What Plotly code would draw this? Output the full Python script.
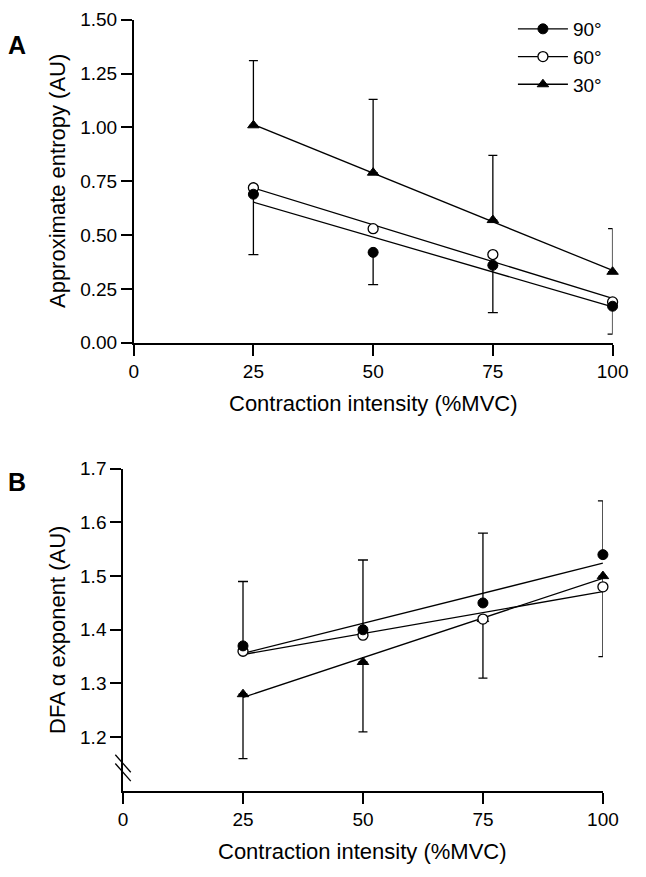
import numpy as np
import plotly.graph_objects as go

# ---------------- data ----------------
intensity = [25, 50, 75, 100]
x_ticks = [0, 25, 50, 75, 100]
angles = ["90°", "60°", "30°"]

apen_90 = [0.69, 0.42, 0.36, 0.17]
apen_90_sd_down = [0.28, 0.15, 0.22, 0.13]
apen_60 = [0.72, 0.53, 0.41, 0.19]
apen_30 = [1.01, 0.79, 0.57, 0.33]
apen_30_sd_up = [0.30, 0.34, 0.30, 0.20]
apen_ticks = [0, 0.25, 0.5, 0.75, 1.0, 1.25, 1.5]

dfa_90 = [1.37, 1.40, 1.45, 1.54]
dfa_90_sd_up = [0.12, 0.13, 0.13, 0.10]
dfa_60 = [1.36, 1.39, 1.42, 1.48]
dfa_30 = [1.28, 1.34, 1.42, 1.50]
dfa_30_sd_down = [0.12, 0.13, 0.11, 0.15]
dfa_ticks = [1.2, 1.3, 1.4, 1.5, 1.6, 1.7]

# ---------------- layout helpers ----------------
W, H = 646, 877
FONT = "Liberation Sans, Arial, Helvetica, sans-serif"


def fx(px):
    return px / W


def fy(py):
    return 1 - py / H


LW = 1.3
marker_styles = {
    "90°": dict(symbol="circle", size=10, color="black", line=dict(color="black", width=1)),
    "60°": dict(symbol="circle", size=10, color="white", line=dict(color="black", width=1.3)),
    "30°": dict(symbol="triangle-up", size=10, color="black", line=dict(color="black", width=1)),
}

fig = go.Figure()


def add_panel(xa, ya, series, errs):
    # regression lines
    for name in ["30°", "60°", "90°"]:
        yv = series[name]
        k, b = np.polyfit(intensity, yv, 1)
        xl = np.array([min(intensity), max(intensity)], dtype=float)
        fig.add_trace(go.Scatter(x=xl, y=k * xl + b, mode="lines",
                                 line=dict(color="black", width=LW), cliponaxis=False,
                                 xaxis=xa, yaxis=ya, showlegend=False, hoverinfo="skip"))
    # markers with error bars
    for name in ["30°", "60°", "90°"]:
        yv = series[name]
        err = None
        if name in errs:
            up, down = errs[name]
            err = dict(type="data", symmetric=False, array=up, arrayminus=down,
                       color="black", thickness=LW,
                       width=4.5 if name == "30°" else 5)
        fig.add_trace(go.Scatter(x=intensity, y=yv, mode="markers", cliponaxis=False,
                                 marker=marker_styles[name], error_y=err,
                                 xaxis=xa, yaxis=ya, showlegend=False, name=name))


zeros = [0, 0, 0, 0]
add_panel("x", "y",
          {"90°": apen_90, "60°": apen_60, "30°": apen_30},
          {"90°": (zeros, apen_90_sd_down), "30°": (apen_30_sd_up, zeros)})
add_panel("x2", "y2",
          {"90°": dfa_90, "60°": dfa_60, "30°": dfa_30},
          {"90°": (dfa_90_sd_up, zeros), "30°": (zeros, dfa_30_sd_down)})

# legend entries
for name in angles:
    fig.add_trace(go.Scatter(x=[None], y=[None], mode="lines+markers", name=name,
                             marker=marker_styles[name], line=dict(color="black", width=LW),
                             xaxis="x", yaxis="y", legendgroup=name, showlegend=True))

axis_common = dict(showline=True, linecolor="black", linewidth=1.5, ticks="outside",
                   ticklen=11, tickwidth=1.5, tickcolor="black", showgrid=False,
                   zeroline=False, tickfont=dict(family=FONT, size=19, color="black"))

fig.update_layout(
    width=W, height=H, margin=dict(l=0, r=0, t=0, b=0),
    paper_bgcolor="white", plot_bgcolor="white",
    font=dict(family=FONT, color="black"),
    xaxis=dict(domain=[fx(133), fx(628)], range=[0, 100], tickvals=x_ticks,
               anchor="y", **axis_common),
    yaxis=dict(domain=[fy(341), fy(10)], range=[0, 1.5], tickvals=apen_ticks,
               tickformat=".2f", anchor="x", **axis_common),
    xaxis2=dict(domain=[fx(122), fx(618)], range=[0, 100], tickvals=x_ticks,
                anchor="y2", **axis_common),
    yaxis2=dict(domain=[fy(800), fy(470)], range=[1.1, 1.7], tickvals=dfa_ticks,
                tickformat=".1f", anchor="x2", **axis_common),
    legend=dict(x=fx(525), y=fy(0), xanchor="left", yanchor="top",
                font=dict(family=FONT, size=19, color="black"), itemwidth=50,
                bgcolor="rgba(0,0,0,0)", tracegroupgap=0),
    showlegend=True,
)

annots = [
    dict(text="<b>A</b>", x=fx(12), y=fy(36), size=25, angle=0),
    dict(text="<b>B</b>", x=fx(12), y=fy(484), size=25, angle=0),
    dict(text="Approximate entropy (AU)", x=fx(55), y=fy(175), size=22, angle=-90),
    dict(text="Contraction intensity (%MVC)", x=fx(380.5), y=fy(403), size=22, angle=0),
    dict(text="DFA α exponent (AU)", x=fx(55), y=fy(635), size=22, angle=-90),
    dict(text="Contraction intensity (%MVC)", x=fx(370), y=fy(862), size=22, angle=0),
]
for a in annots:
    fig.add_annotation(text=a["text"], x=a["x"], y=a["y"], xref="paper", yref="paper",
                       xanchor="center", yanchor="middle", showarrow=False,
                       textangle=a["angle"], font=dict(family=FONT, size=a["size"], color="black"))

# axis break marks on panel B y axis
for yc in (772, 781):
    fig.add_shape(type="line", xref="paper", yref="paper",
                  x0=fx(114), y0=fy(yc - 9), x1=fx(130), y1=fy(yc + 9),
                  line=dict(color="black", width=LW))

fig.write_html("out.html", config={"displayModeBar": False},
               post_script="document.body.style.margin='0px';")
